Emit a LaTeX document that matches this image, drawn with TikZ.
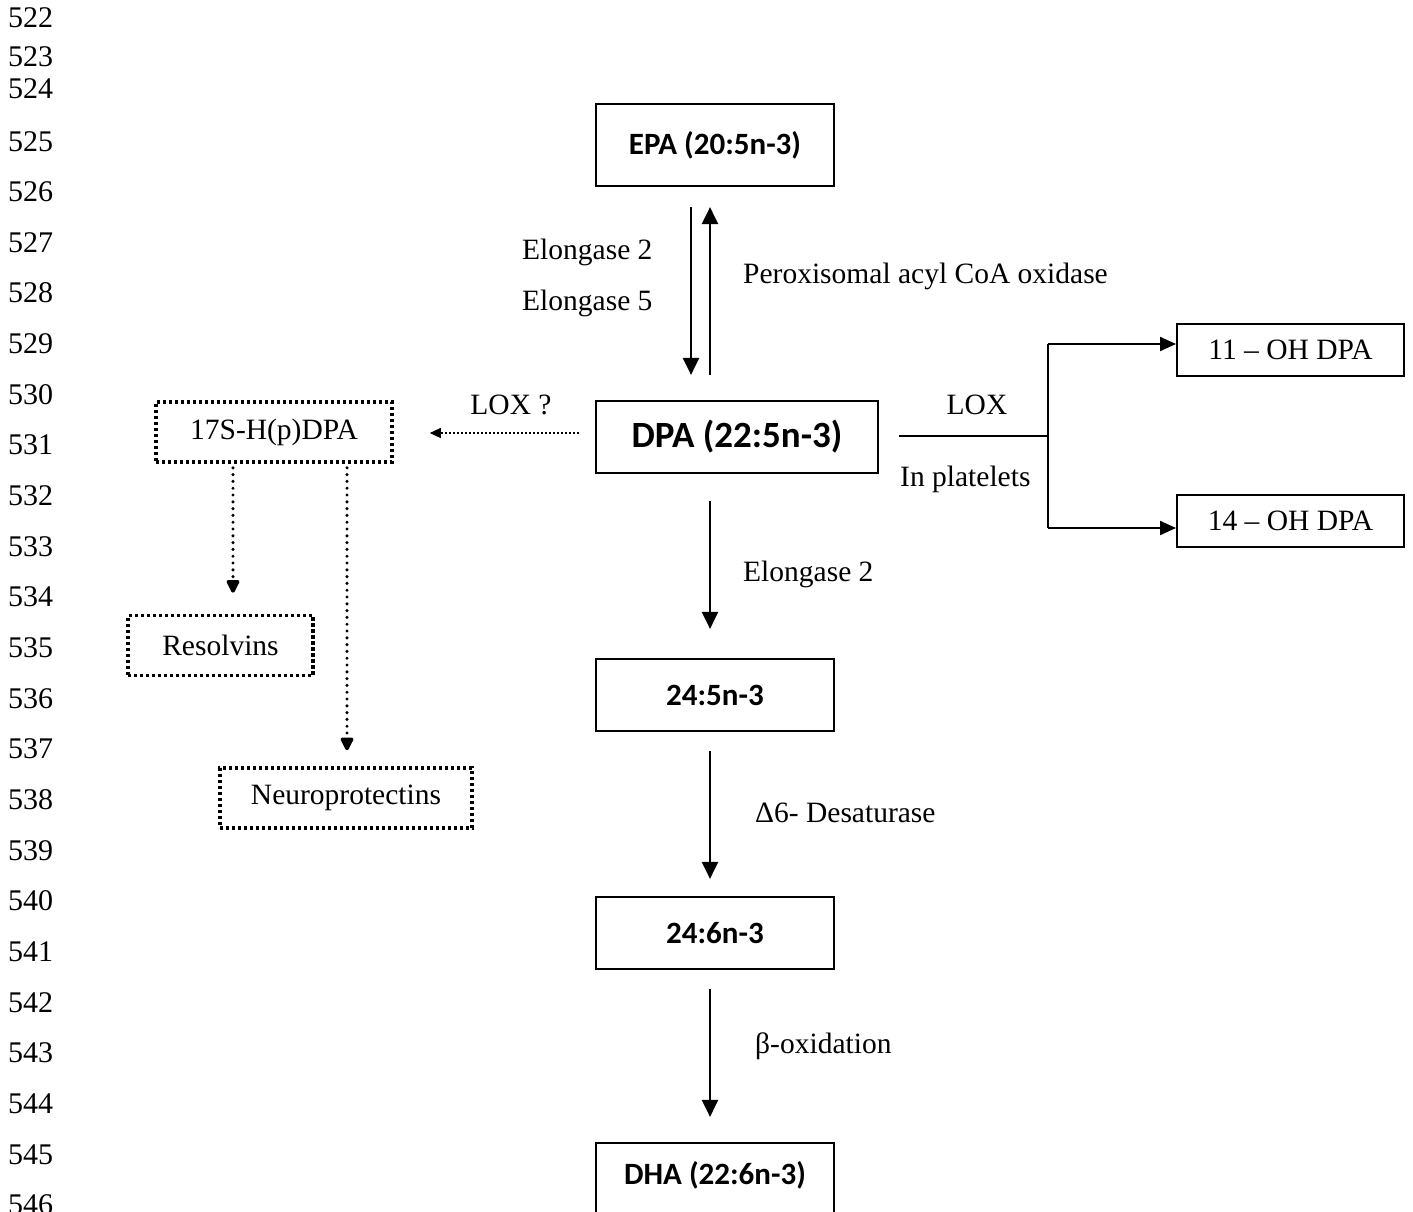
\documentclass[tikz,border=0pt]{standalone}
\usepackage{fontspec}
\setmainfont{Liberation Serif}
\newfontfamily\carl{Carlito}
\usetikzlibrary{arrows.meta,calc}
\begin{document}
\begin{tikzpicture}[x=1pt,y=-1pt,
  txt/.style={font=\fontsize{29.5}{32}\selectfont, inner sep=0pt},
  lnum/.style={font=\fontsize{30}{32}\selectfont, inner sep=0pt, anchor=base west},
  box/.style={draw, line width=2.2pt, inner sep=0pt, font=\carl\bfseries\fontsize{31}{34}\selectfont},
  obox/.style={draw, line width=2pt, inner sep=0pt, minimum width=227pt, minimum height=52pt, font=\fontsize{29.5}{32}\selectfont},
  dotbox/.style={draw, line width=3.6pt, dash pattern=on 3.4pt off 2.6pt, inner sep=0pt, minimum height=60pt, font=\fontsize{29.5}{32}\selectfont},
  arr/.style={line width=2.4pt, -{Triangle[length=17pt,width=16pt]}},
  barr/.style={line width=2.2pt, -{Triangle[length=16pt,width=14pt]}},
  dotarr/.style={line width=3.4pt, line cap=round, dash pattern=on 0pt off 6.8pt, -{Triangle[length=15pt,width=14pt,round=false]}},
  fdotarr/.style={line width=1.3pt, dash pattern=on 2pt off 2pt, -{Triangle[length=11pt,width=10pt]}}
]
\useasboundingbox (0,0) rectangle (1413,1212);

% line numbers
\node[lnum] (ln522) at (8,28) {522};
\node[lnum] (ln523) at (8,67) {523};
\node[lnum] (ln524) at (8,99) {524};
\foreach \k in {0,...,21}{
  \pgfmathtruncatemacro{\n}{525+\k}
  \pgfmathsetmacro{\yy}{151+50.65*\k}
  \node[lnum] (ln\n) at (8,\yy) {\n};
}

% main boxes
\node[box, minimum width=238pt, minimum height=82pt] (epa) at (715,145) {EPA (20:5n-3)};
\node[box, minimum width=282pt, minimum height=72pt, font=\carl\bfseries\fontsize{37}{40}\selectfont] (dpa) at (737,437) {DPA (22:5n-3)};
\node[box, minimum width=238pt, minimum height=72pt] (e245) at (715,695) {24:5n-3};
\node[box, minimum width=238pt, minimum height=72pt] (e246) at (715,933) {24:6n-3};
\node[box, minimum width=238pt, minimum height=84pt, text depth=24pt] (dha) at (715,1185) {DHA (22:6n-3)};

% right boxes
\node[obox] (oh11) at (1290.5,350) {11 -- OH DPA};
\node[obox] (oh14) at (1290.5,521) {14 -- OH DPA};

% left dotted boxes
\node[dotbox, minimum width=236pt] (s17) at (274,432) {17S-H(p)DPA};
\node[dotbox, minimum width=185pt] (res) at (220.5,645.5) {Resolvins};
\node[dotbox, minimum width=252pt] (neu) at (346,798) {Neuroprotectins};

% EPA <-> DPA
\draw[arr] ($(epa.south)+(-24,20)$) -- ($(dpa.north)+(-46,-25)$);
\draw[arr] ($(dpa.north)+(-27,-25)$) -- ($(epa.south)+(-5,20)$);
\node[txt, anchor=base west] (el2) at (522,259) {Elongase 2};
\node[txt, anchor=base west] (el5) at (522,310) {Elongase 5};
\node[txt, anchor=base west] (perox) at (743,283) {Peroxisomal acyl CoA oxidase};

% DPA -> 24:5 -> 24:6 -> DHA
\draw[arr] ($(dpa.south)+(-27,27)$) -- ($(e245.north)+(-5,-29)$);
\node[txt, anchor=base west] (el2b) at (743,581) {Elongase 2};
\draw[arr] ($(e245.south)+(-5,19)$) -- ($(e246.north)+(-5,-17)$);
\node[txt, anchor=base west] (des) at (755,822) {Δ6- Desaturase};
\draw[arr] ($(e246.south)+(-5,19)$) -- ($(dha.north)+(-5,-25)$);
\node[txt, anchor=base west] (box) at (755,1053) {β-oxidation};

% LOX branch
\coordinate (br) at (1048,436);
\coordinate (b11) at (1048,344);
\coordinate (b14) at (1048,528);
\draw[line width=1.8pt] ($(dpa.east)+(20,-1)$) -- (br);
\draw[line width=2.2pt] (b11) -- (b14);
\draw[barr] (b11) -- (b11 -| oh11.west);
\draw[barr] (b14) -- (b14 -| oh14.west);
\node[txt] (lox) at (977,405) {LOX};
\node[txt, anchor=base west] (plat) at (900,486) {In platelets};

% LOX ? branch
\draw[fdotarr] ($(dpa.west)+(-16,-4)$) -- ($(s17.east)+(36,1)$);
\node[txt] (loxq) at (511,405) {LOX ?};
\coordinate (r1) at ($(s17.south)+(-41,4)$);
\coordinate (r2) at ($(s17.south)+(73,4)$);
\draw[dotarr, shorten >=21pt] (r1) -- (r1 |- res.north);
\draw[dotarr, shorten >=16pt] (r2) -- (r2 |- neu.north);
\end{tikzpicture}
\end{document}
